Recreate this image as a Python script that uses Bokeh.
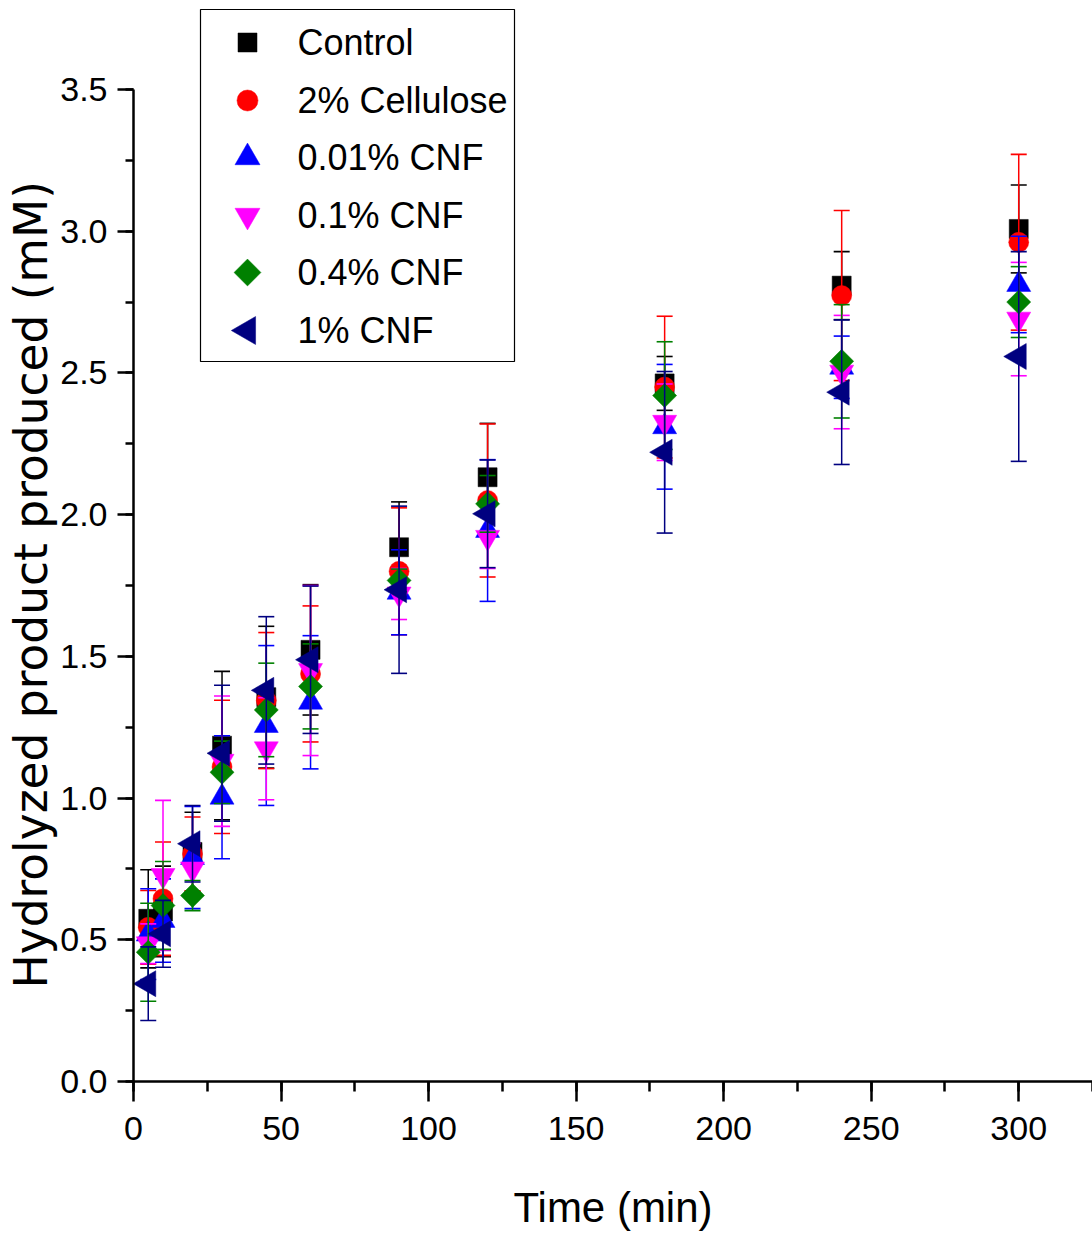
import numpy as np
from bokeh.plotting import figure
from bokeh.models import (Range1d, SingleIntervalTicker, NumeralTickFormatter, Title)
from bokeh.core.properties import value
from bokeh.embed import file_html
from bokeh.resources import INLINE

# ---------------- data ----------------
time_min = [5, 10, 20, 30, 45, 60, 90, 120, 180, 240, 300]

control = [0.574, 0.600, 0.810, 1.185, 1.356, 1.523, 1.885, 2.132, 2.463, 2.808, 3.008]
control_err = [0.173, 0.160, 0.140, 0.262, 0.250, 0.230, 0.160, 0.190, 0.095, 0.120, 0.155]

cellulose = [0.544, 0.645, 0.803, 1.110, 1.344, 1.438, 1.800, 2.050, 2.450, 2.773, 2.961]
cellulose_err = [0.130, 0.200, 0.130, 0.235, 0.240, 0.240, 0.224, 0.270, 0.250, 0.300, 0.310]

cnf_001 = [0.520, 0.568, 0.790, 1.003, 1.256, 1.338, 1.726, 1.944, 2.310, 2.520, 2.812]
cnf_001_err = [0.160, 0.147, 0.180, 0.217, 0.282, 0.235, 0.150, 0.250, 0.220, 0.110, 0.170]

cnf_01 = [0.486, 0.727, 0.750, 1.130, 1.174, 1.450, 1.720, 1.920, 2.326, 2.503, 2.690]
cnf_01_err = [0.070, 0.265, 0.090, 0.230, 0.180, 0.300, 0.090, 0.110, 0.135, 0.200, 0.200]

cnf_04 = [0.456, 0.621, 0.656, 1.091, 1.311, 1.394, 1.768, 2.038, 2.420, 2.541, 2.750]
cnf_04_err = [0.173, 0.155, 0.053, 0.110, 0.165, 0.150, 0.040, 0.100, 0.190, 0.200, 0.125]

cnf_1 = [0.345, 0.521, 0.839, 1.158, 1.380, 1.488, 1.735, 2.003, 2.220, 2.432, 2.558]
cnf_1_err = [0.130, 0.118, 0.135, 0.240, 0.260, 0.260, 0.295, 0.190, 0.285, 0.255, 0.370]

labels = ["Control", "2% Cellulose", "0.01% CNF", "0.1% CNF", "0.4% CNF", "1% CNF"]
values = [control, cellulose, cnf_001, cnf_01, cnf_04, cnf_1]
errors = [control_err, cellulose_err, cnf_001_err, cnf_01_err, cnf_04_err, cnf_1_err]

# ---------------- styles ----------------
colors = ["#000000", "#FF0000", "#0000FF", "#FF00FF", "#008000", "#000080"]
markers = ["square", "circle", "triangle", "inverted_triangle", "square", "triangle"]
sizes = [19, 20, 24, 24, 17, 26]
legend_sizes = [19, 21, 25, 25, 19, 28]
angles = [0, 0, 0, 0, 45, 90]

SANS = "Liberation Sans, Arial, sans-serif"

# layout (canvas pixels): frame x=133..1092, y=0..1081 ; y=3.5 sits at 89
X_END = 325.0
Y_END = 3.5 + 89 / 283.43
PX_X = 959 / X_END
PX_Y = 1081 / Y_END


def dx(px):
    return (px - 133) / PX_X


def dy(py):
    return (1081 - py) / PX_Y


p = figure(width=1092, height=1241,
           x_range=Range1d(0, X_END), y_range=Range1d(0, Y_END),
           output_backend="svg", toolbar_location=None,
           min_border_left=133, min_border_right=0,
           min_border_top=0, min_border_bottom=160)
p.outline_line_color = None
p.grid.visible = False
p.background_fill_color = "white"
p.border_fill_color = "white"

p.xaxis.ticker = SingleIntervalTicker(interval=50, num_minor_ticks=2)
p.yaxis.ticker = SingleIntervalTicker(interval=0.5, num_minor_ticks=2)
p.yaxis.formatter = NumeralTickFormatter(format="0.0")
p.xaxis.formatter = NumeralTickFormatter(format="0")
p.yaxis.bounds = (0, 3.5)

for ax in (p.xaxis[0], p.yaxis[0]):
    ax.axis_line_width = 2.5
    ax.axis_line_color = "black"
    ax.major_tick_line_width = 2.5
    ax.minor_tick_line_width = 2.5
    ax.major_tick_line_color = "black"
    ax.minor_tick_line_color = "black"
    ax.major_tick_in = 0
    ax.minor_tick_in = 0
    ax.major_label_text_font = SANS
    ax.major_label_text_font_size = "34px"
    ax.major_label_text_color = "black"

p.xaxis.major_tick_out = 20
p.xaxis.minor_tick_out = 10
p.yaxis.major_tick_out = 16
p.yaxis.minor_tick_out = 8
p.xaxis.major_label_standoff = 15
p.yaxis.major_label_standoff = 10

p.xaxis.axis_label = "Time (min)"
p.xaxis.axis_label_text_font = SANS
p.xaxis.axis_label_text_font_size = "42px"
p.xaxis.axis_label_text_font_style = "normal"
p.xaxis.axis_label_text_color = "black"
p.xaxis.axis_label_standoff = 41

ytitle = Title(text="Hydrolyzed product produced (mM)", align="left", offset=93,
               text_font="DejaVu Sans", text_font_size="45.5px",
               text_font_style="normal", text_color="black", standoff=0)
p.add_layout(ytitle, "left")

# ---------------- data marks ----------------
for v, e, c, m, s, a in zip(values, errors, colors, markers, sizes, angles):
    v = np.asarray(v, dtype=float)
    e = np.asarray(e, dtype=float)
    lo = v - e
    hi = v + e
    p.scatter(time_min, v, marker=m, size=s, angle=a, angle_units="deg",
              fill_color=c, line_color=c, line_width=0.5)
    p.segment(x0=time_min, y0=lo, x1=time_min, y1=hi, line_color=c, line_width=1.5)
    p.scatter(time_min, lo, marker="dash", size=16, line_color=c, line_width=1.6)
    p.scatter(time_min, hi, marker="dash", size=16, line_color=c, line_width=1.6)

# ---------------- legend (box, symbols and labels) ----------------
item_py = [42, 100, 157, 215, 272, 330]
p.quad(left=[dx(200)], right=[dx(514)], top=[dy(9)], bottom=[dy(361)],
       fill_color="white", line_color="black", line_width=1.2)
for name, c, m, s, a, py in zip(labels, colors, markers, legend_sizes, angles, item_py):
    p.scatter([dx(247)], [dy(py)], marker=m, size=s, angle=a, angle_units="deg",
              fill_color=c, line_color=c, line_width=0.5)
    p.text([dx(297)], [dy(py)], text=[name], text_baseline="middle", text_align="left",
           text_font=value(SANS), text_font_size="36px", text_color="black")

open("out.html", "w").write(file_html(p, INLINE))
